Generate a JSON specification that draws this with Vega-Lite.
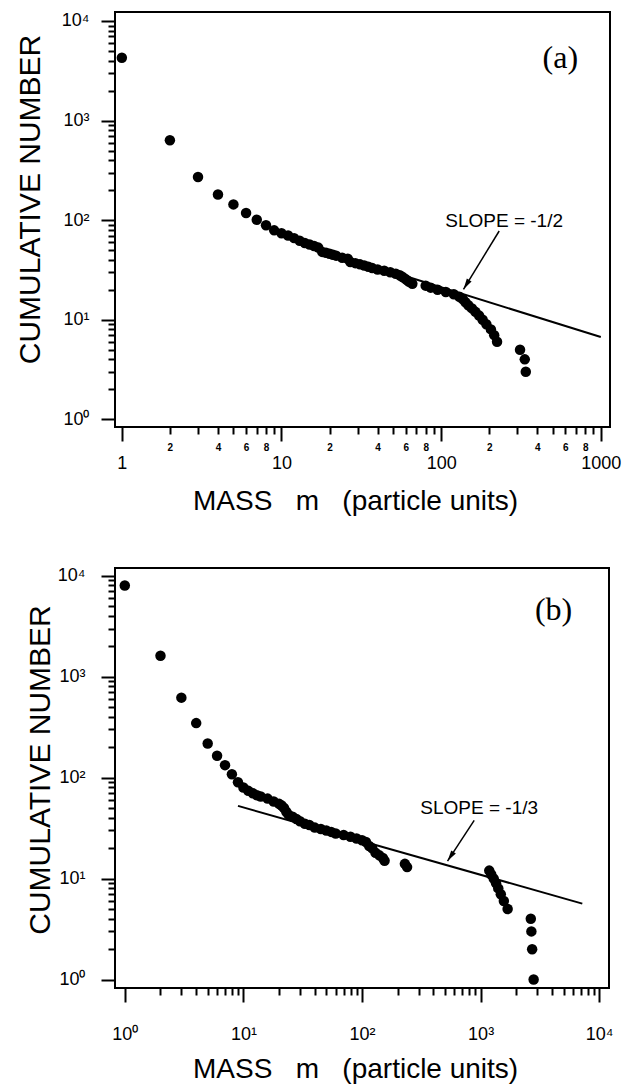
{
  "$schema": "https://vega.github.io/schema/vega-lite/v6.json",
  "background": "white",
  "padding": {"left": 14, "top": 10, "right": 0, "bottom": 0},
  "config": {
    "font": "Liberation Sans",
    "view": {"stroke": "black", "strokeWidth": 2},
    "axis": {
      "grid": false, "domain": false, "tickColor": "black", "tickWidth": 2,
      "labelColor": "black", "titleColor": "black", "labelFont": "Liberation Sans",
      "titleFont": "Liberation Sans", "titleFontWeight": "normal",
      "labelOverlap": false, "labelFlush": false, "labelBound": false
    }
  },
  "datasets": {
    "a_pts": [
      {"m":1,"n":4270},{"m":2,"n":634},{"m":3,"n":271},{"m":4,"n":181},{"m":5,"n":144},{"m":6,"n":118},{"m":7,"n":101},{"m":8,"n":89},{"m":9,"n":79},
      {"m":10,"n":74},{"m":11,"n":70},{"m":12,"n":66},{"m":13,"n":62},{"m":14,"n":59},{"m":15,"n":57},{"m":16,"n":55},{"m":17,"n":53},{"m":18,"n":48},{"m":19,"n":47},
      {"m":20,"n":46},{"m":21,"n":45},{"m":22,"n":44},{"m":24,"n":42},{"m":26,"n":41},{"m":27,"n":38},{"m":29,"n":37},{"m":31,"n":36},{"m":33,"n":35},{"m":35,"n":34},
      {"m":37,"n":33},{"m":40,"n":32},{"m":44,"n":31},{"m":48,"n":30},{"m":52,"n":29},{"m":55,"n":28},{"m":57,"n":27},{"m":59,"n":26},{"m":61,"n":25},{"m":63,"n":24},
      {"m":66,"n":23},{"m":80,"n":22},{"m":86,"n":21},{"m":95,"n":20},{"m":107,"n":19},{"m":120,"n":18},{"m":130,"n":17},{"m":137,"n":16},{"m":142,"n":15},{"m":148,"n":14},
      {"m":156,"n":13},{"m":164,"n":12},{"m":173,"n":11},{"m":182,"n":10},{"m":192,"n":9},{"m":205,"n":8},{"m":215,"n":7},{"m":224,"n":6},{"m":312,"n":5},{"m":334,"n":4},{"m":339,"n":3}
    ],
    "a_line": [{"m":50,"n":29.96},{"m":1000,"n":6.7}],
    "a_arrow": [{"m":231,"n":77.8},{"m":138,"n":20.2}],
    "a_tip": [{"m":138,"n":20.2}],
    "a_lab": [{"m":558,"n":4245,"t":"(a)"}],
    "a_slope": [{"m":248,"n":98,"t":"SLOPE = -1/2"}],
    "b_pts": [
      {"m":1,"n":8000},{"m":2,"n":1610},{"m":3,"n":620},{"m":4,"n":347},{"m":5,"n":218},{"m":6,"n":165},{"m":7,"n":133},{"m":8,"n":108},{"m":9,"n":90},
      {"m":10,"n":80},{"m":11,"n":74},{"m":12,"n":70},{"m":13,"n":67},{"m":14,"n":65},{"m":16,"n":62},{"m":18,"n":58},{"m":20,"n":55},{"m":21,"n":53},{"m":22,"n":50},
      {"m":23,"n":46},{"m":24,"n":43},{"m":26,"n":41},{"m":28,"n":39},{"m":30,"n":37},{"m":33,"n":35},{"m":36,"n":34},{"m":40,"n":32},{"m":45,"n":31},{"m":50,"n":30},
      {"m":55,"n":29},{"m":60,"n":28},{"m":70,"n":27},{"m":80,"n":26},{"m":90,"n":25},{"m":100,"n":24},{"m":108,"n":23},{"m":115,"n":21},{"m":122,"n":20},{"m":130,"n":18},
      {"m":140,"n":17},{"m":150,"n":16},{"m":155,"n":15},{"m":230,"n":14},{"m":240,"n":13},
      {"m":1183,"n":12},{"m":1230,"n":11},{"m":1290,"n":10},{"m":1350,"n":9},{"m":1410,"n":8},{"m":1480,"n":7},{"m":1570,"n":6},{"m":1690,"n":5},
      {"m":2650,"n":4},{"m":2680,"n":3},{"m":2720,"n":2},{"m":2800,"n":1}
    ],
    "b_line": [{"m":9,"n":52.5},{"m":7200,"n":5.65}],
    "b_arrow": [{"m":883,"n":37.8},{"m":526,"n":14.9}],
    "b_tip": [{"m":526,"n":14.9}],
    "b_lab": [{"m":4120,"n":4610,"t":"(b)"}],
    "b_slope": [{"m":973,"n":49.5,"t":"SLOPE = -1/3"}]
  },
  "bounds": "flush",
  "spacing": 141,
  "vconcat": [
    {
      "width": 495,
      "height": 415,
      "encoding": {
        "x": {
          "field": "m", "type": "quantitative",
          "scale": {"type": "log", "domain": [0.906, 1142], "nice": false},
          "title": "MASS\u00a0\u00a0\u00a0m\u00a0\u00a0\u00a0(particle units)",
          "axis": {
            "values": [1,2,3,4,5,6,7,8,9,10,20,30,40,50,60,70,80,90,100,200,300,400,500,600,700,800,900,1000],
            "labelExpr": "indexof([1,10,100,1000],datum.value)>=0?toString(datum.value):indexof([2,20,200],datum.value)>=0?'2':indexof([4,40,400],datum.value)>=0?'4':indexof([6,60,600],datum.value)>=0?'6':indexof([8,80,800],datum.value)>=0?'8':''",
            "tickSize": {"condition": {"test": "indexof([1,10,100,1000],datum.value)<0", "value": 7}, "value": 14},
            "labelFontSize": {"condition": {"test": "indexof([1,10,100,1000],datum.value)<0", "value": 10}, "value": 18},
            "labelFontWeight": {"condition": {"test": "indexof([1,10,100,1000],datum.value)<0", "value": "bold"}, "value": "normal"},
            "labelPadding": {"condition": {"test": "indexof([1,10,100,1000],datum.value)<0", "value": 8}, "value": 13},
            "titleFontSize": 28, "titleAlign": "left", "titleX": 77.5, "titleY": 82.5, "titleBaseline": "alphabetic", "titleAngle": 0
          }
        },
        "y": {
          "field": "n", "type": "quantitative",
          "scale": {"type": "log", "domain": [0.837, 12313], "nice": false},
          "title": "CUMULATIVE NUMBER",
          "axis": {
            "values": [1,2,3,4,5,6,7,8,9,10,20,30,40,50,60,70,80,90,100,200,300,400,500,600,700,800,900,1000,2000,3000,4000,5000,6000,7000,8000,9000,10000],
            "labelExpr": "datum.value==1?'10⁰':datum.value==10?'10¹':datum.value==100?'10²':datum.value==1000?'10³':datum.value==10000?'10⁴':''",
            "tickSize": {"condition": {"test": "indexof([1,10,100,1000,10000],datum.value)<0", "value": 7}, "value": 14},
            "labelFontSize": 18, "labelPadding": 12,
            "titleFontSize": 30, "titleAngle": 270, "titleAlign": "center", "titleBaseline": "alphabetic", "titleX": -75.5, "titleY": 187
          }
        }
      },
      "layer": [
        {"data": {"name": "a_line"}, "mark": {"type": "line", "color": "black", "strokeWidth": 2}},
        {"data": {"name": "a_arrow"}, "mark": {"type": "line", "color": "black", "strokeWidth": 1.5}},
        {"data": {"name": "a_tip"}, "mark": {"type": "point", "shape": "M0,0L-0.5,2L0.5,2Z", "filled": true, "color": "black", "opacity": 1, "size": 121, "angle": 211.5}},
        {"data": {"name": "a_pts"}, "mark": {"type": "circle", "color": "black", "opacity": 1, "size": 110}},
        {"data": {"name": "a_lab"}, "mark": {"type": "text", "font": "Liberation Serif", "fontSize": 32, "color": "black", "align": "center", "baseline": "middle"}, "encoding": {"text": {"field": "t"}}},
        {"data": {"name": "a_slope"}, "mark": {"type": "text", "font": "Liberation Sans", "fontSize": 19, "color": "black", "align": "center", "baseline": "middle"}, "encoding": {"text": {"field": "t"}}}
      ]
    },
    {
      "width": 494,
      "height": 420,
      "encoding": {
        "x": {
          "field": "m", "type": "quantitative",
          "scale": {"type": "log", "domain": [0.827, 12093], "nice": false},
          "title": "MASS\u00a0\u00a0\u00a0m\u00a0\u00a0\u00a0(particle units)",
          "axis": {
            "values": [1,2,3,4,5,6,7,8,9,10,20,30,40,50,60,70,80,90,100,200,300,400,500,600,700,800,900,1000,2000,3000,4000,5000,6000,7000,8000,9000,10000],
            "labelExpr": "datum.value==1?'10⁰':datum.value==10?'10¹':datum.value==100?'10²':datum.value==1000?'10³':datum.value==10000?'10⁴':''",
            "tickSize": {"condition": {"test": "indexof([1,10,100,1000,10000],datum.value)<0", "value": 7}, "value": 14},
            "labelFontSize": 18, "labelPadding": 23,
            "titleFontSize": 28, "titleAlign": "left", "titleX": 77.5, "titleY": 89.5, "titleBaseline": "alphabetic", "titleAngle": 0
          }
        },
        "y": {
          "field": "n", "type": "quantitative",
          "scale": {"type": "log", "domain": [0.825, 11923], "nice": false},
          "title": "CUMULATIVE NUMBER",
          "axis": {
            "values": [1,2,3,4,5,6,7,8,9,10,20,30,40,50,60,70,80,90,100,200,300,400,500,600,700,800,900,1000,2000,3000,4000,5000,6000,7000,8000,9000,10000],
            "labelExpr": "datum.value==1?'10⁰':datum.value==10?'10¹':datum.value==100?'10²':datum.value==1000?'10³':datum.value==10000?'10⁴':''",
            "tickSize": {"condition": {"test": "indexof([1,10,100,1000,10000],datum.value)<0", "value": 7}, "value": 14},
            "labelFontSize": 18, "labelPadding": 16,
            "titleFontSize": 30, "titleAngle": 270, "titleAlign": "center", "titleBaseline": "alphabetic", "titleX": -65.5, "titleY": 201.5
          }
        }
      },
      "layer": [
        {"data": {"name": "b_line"}, "mark": {"type": "line", "color": "black", "strokeWidth": 2}},
        {"data": {"name": "b_arrow"}, "mark": {"type": "line", "color": "black", "strokeWidth": 1.5}},
        {"data": {"name": "b_tip"}, "mark": {"type": "point", "shape": "M0,0L-0.5,2L0.5,2Z", "filled": true, "color": "black", "opacity": 1, "size": 121, "angle": 213.3}},
        {"data": {"name": "b_pts"}, "mark": {"type": "circle", "color": "black", "opacity": 1, "size": 110}},
        {"data": {"name": "b_lab"}, "mark": {"type": "text", "font": "Liberation Serif", "fontSize": 32, "color": "black", "align": "center", "baseline": "middle"}, "encoding": {"text": {"field": "t"}}},
        {"data": {"name": "b_slope"}, "mark": {"type": "text", "font": "Liberation Sans", "fontSize": 19, "color": "black", "align": "center", "baseline": "middle"}, "encoding": {"text": {"field": "t"}}}
      ]
    }
  ]
}
